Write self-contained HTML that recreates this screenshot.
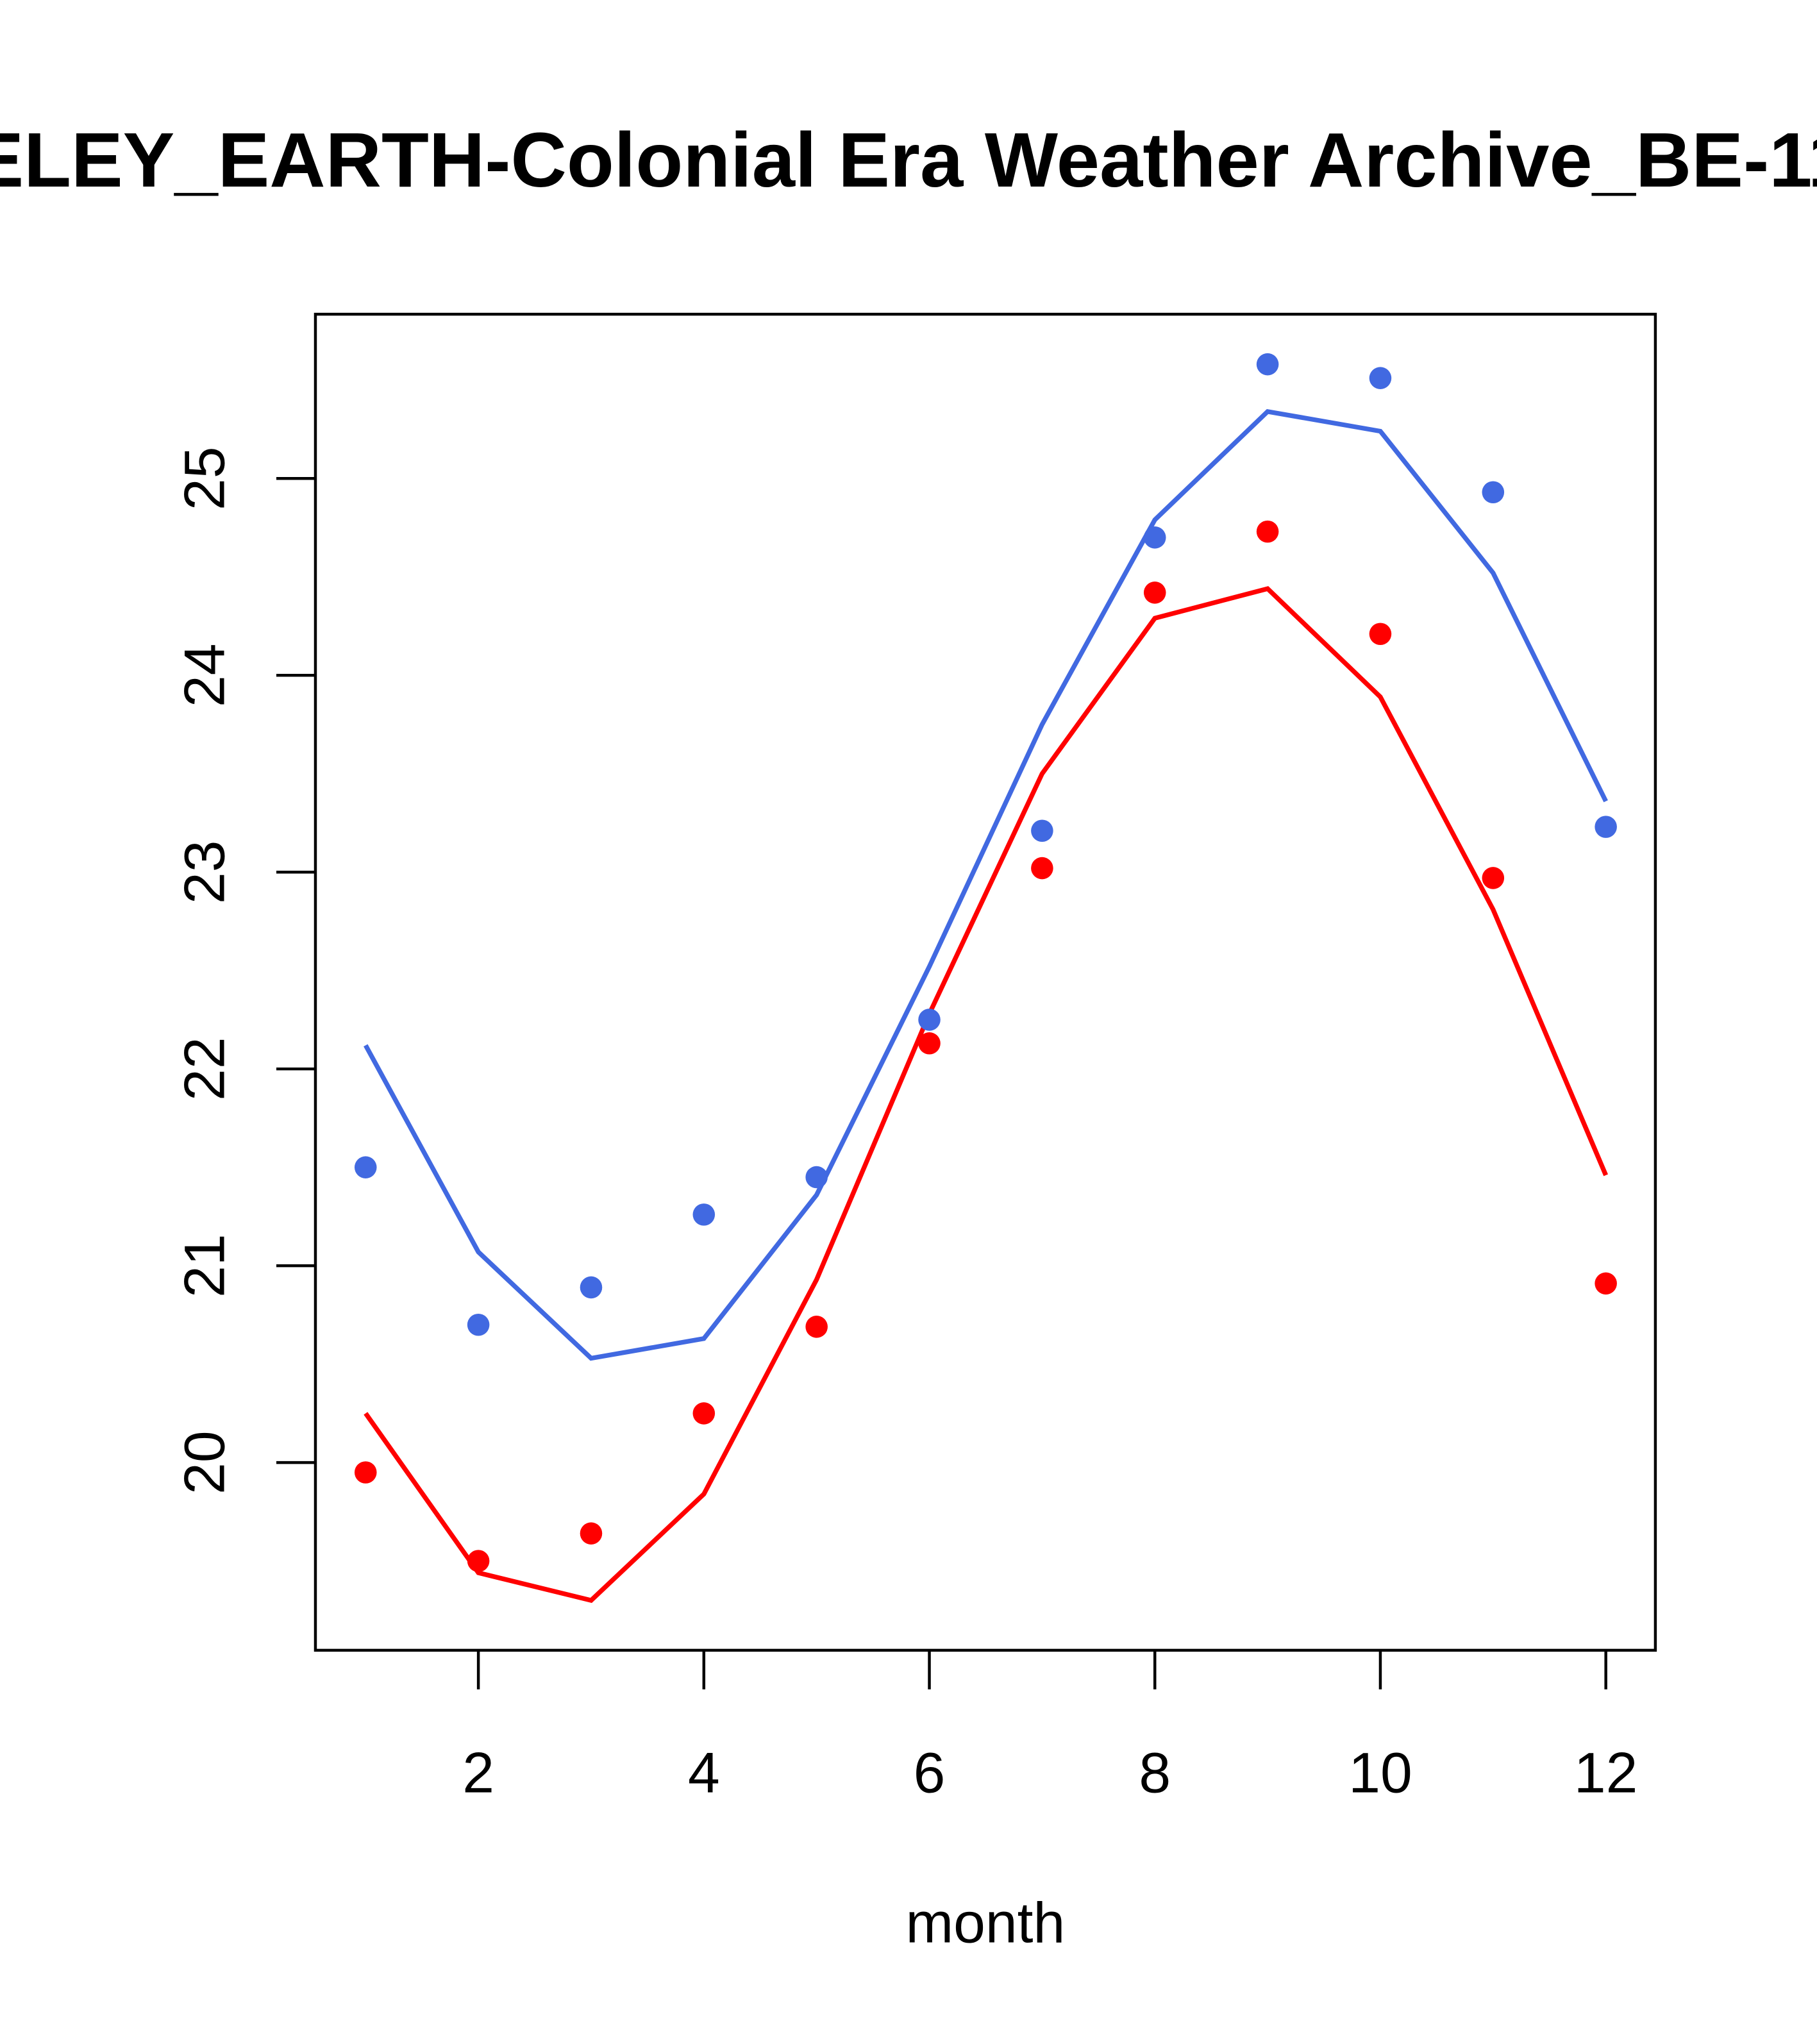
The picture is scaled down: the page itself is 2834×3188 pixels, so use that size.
<!DOCTYPE html>
<html><head><meta charset="utf-8"><style>html,body{margin:0;padding:0;background:#fff}svg{display:block}</style></head>
<body>
<svg id="chart" xmlns="http://www.w3.org/2000/svg" width="2834" height="3188" viewBox="0 0 1394 1568" font-family="Liberation Sans, sans-serif">
<rect width="1394" height="1568" fill="#fff"/>
<text x="-190" y="143" font-size="59.5" font-weight="bold" fill="#000">BERKELEY_EARTH-Colonial Era Weather Archive_BE-1100000</text>
<rect x="242" y="241" width="1028" height="1025" fill="none" stroke="#000" stroke-width="2.2"/>
<text x="756" y="1490" font-size="44" text-anchor="middle">month</text>
<g id="axes"></g>
<g id="marks"></g>
</svg>
<script>
const months=[1,2,3,4,5,6,7,8,9,10,11,12];
const bluePoints=[21.50,20.70,20.89,21.26,21.45,22.25,23.21,24.70,25.58,25.51,24.93,23.23];
const blueLine=[22.12,21.07,20.53,20.63,21.36,22.52,23.75,24.79,25.34,25.24,24.52,23.36];
const redPoints=[19.95,19.50,19.64,20.25,20.69,22.13,23.02,24.42,24.73,24.21,22.97,20.91];
const redLine=[20.25,19.44,19.30,19.84,20.93,22.28,23.50,24.29,24.44,23.89,22.81,21.46];
const xTicks=[2,4,6,8,10,12];
const yTicks=[20,21,22,23,24,25];
const NS="http://www.w3.org/2000/svg";
function xs(m){return 367+(m-2)*86.5;}
function ys(v){return 1122-(v-20)*151;}
function mk(tag,attrs,parent){const e=document.createElementNS(NS,tag);for(const k in attrs)e.setAttribute(k,attrs[k]);parent.appendChild(e);return e;}
const axes=document.getElementById('axes'),marks=document.getElementById('marks');
xTicks.forEach(t=>{
  const l=mk('line',{x1:xs(t),x2:xs(t),y1:1266,y2:1296,stroke:'#000','stroke-width':2.2},axes);
  
  
  const tx=mk('text',{x:xs(t),y:1375,'font-size':44,'text-anchor':'middle'},axes);
  tx.textContent=t;
  
  
});
yTicks.forEach(t=>{
  const l=mk('line',{x1:212,x2:242,y1:ys(t),y2:ys(t),stroke:'#000','stroke-width':2.2},axes);
  
  
  const tx=mk('text',{x:0,y:0,'font-size':44,'text-anchor':'middle',transform:`translate(172,${ys(t)}) rotate(-90)`},axes);
  tx.textContent=t;
  
  
});
function line(vals,color,name){
  const p=mk('polyline',{points:vals.map((v,i)=>xs(months[i])+','+ys(v)).join(' '),fill:'none',stroke:color,'stroke-width':3.6},marks);
  
  
}
function pts(vals,color,name){
  vals.forEach((v,i)=>{
    const c=mk('circle',{cx:xs(months[i]),cy:ys(v),r:8.5,fill:color},marks);
    
    
  });
}
line(blueLine,'#4169E1','blue-line');
line(redLine,'#FF0000','red-line');
pts(bluePoints,'#4169E1','blue-point');
pts(redPoints,'#FF0000','red-point');
</script>
</body></html>
